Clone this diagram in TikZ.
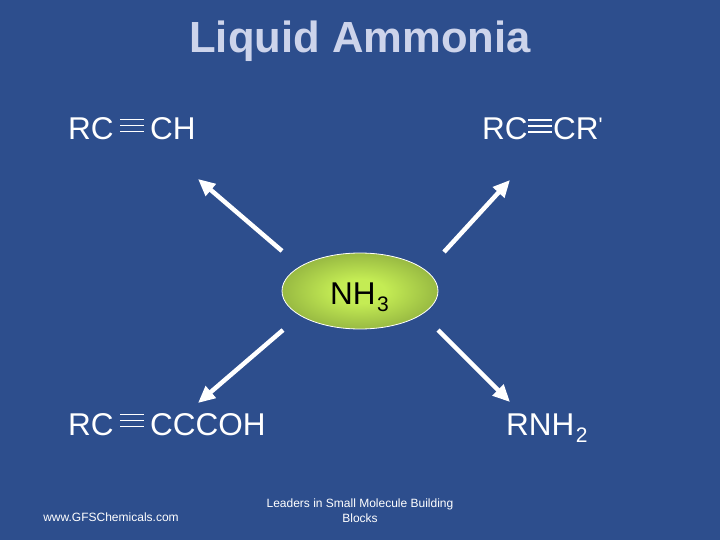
\documentclass[tikz,border=0pt]{standalone}
\usepackage{fontspec}
\setmainfont{Liberation Sans}
\newfontfamily\plainfam{Liberation Sans}
\usetikzlibrary{arrows.meta,shapes.geometric}
\definecolor{bgblue}{RGB}{45,78,141}
\definecolor{titlecol}{RGB}{205,212,235}
\definecolor{glowin}{RGB}{196,236,84}
\definecolor{glowout}{RGB}{88,112,40}
\pgfdeclareradialshading{glowshade}{\pgfpoint{0bp}{0bp}}{color(0bp)=(glowin); color(8bp)=(glowin); color(50bp)=(glowout); color(100bp)=(glowout)}
\newcommand{\subthree}[1]{\kern1.5pt\raisebox{-7pt}{\fontsize{21}{22}\selectfont #1}}
\tikzset{
  x=1pt,y=-1pt,
  lab/.style={text=white,font=\fontsize{31.5}{33}\selectfont,inner sep=0pt,anchor=base west},
  bondline/.style={draw=white,line width=1.8pt},
  bigarrow/.style={draw=white,line width=4.5pt,-{Triangle[length=17pt,width=15pt]}},
  foot/.style={text=white,font=\fontsize{12}{14.5}\selectfont,inner sep=0pt,align=center}
}
\begin{document}
\begin{tikzpicture}
\useasboundingbox (0,0) rectangle (720,540);
\fill[bgblue] (0,0) rectangle (720,540);
\node[text=titlecol,font=\bfseries\fontsize{43.6}{46}\selectfont,inner sep=0pt,anchor=base] (title) at (360,53) {Liquid Ammonia};
\node[lab] (a1) at (68,140) {RC};
\node[lab] (a2) at (150,140) {CH};
\node[lab] (b1) at (482,140) {RC};
\node[lab] (b2) at (553,140) {CR\raisebox{7pt}{\fontsize{21}{22}\plainfam\selectfont '}};
\node[lab] (c1) at (68,435) {RC};
\node[lab] (c2) at (150,435) {CCCOH};
\node[lab] (d) at (506,435) {RNH\subthree{2}};
\foreach \y in {119.5,125.5,131.5} \draw[bondline] (120,\y) -- (144,\y);
\foreach \y in {120,126,132} \draw[bondline] (528,\y) -- (552,\y);
\foreach \y in {414.5,420.5,426.5} \draw[bondline] (120,\y) -- (144,\y);
\node[draw=white,line width=0.8pt,ellipse,minimum width=156pt,minimum height=76pt,inner sep=0pt,shading=glowshade] (nh) at (360,291) {};
\node[lab,text=black] (nhl) at (330,304) {NH\subthree{3}};
\coordinate (s1) at (282,251); \coordinate (e1) at (198,179);
\coordinate (s2) at (444,252); \coordinate (e2) at (510,180);
\coordinate (s3) at (283,330); \coordinate (e3) at (198,403);
\coordinate (s4) at (438,330); \coordinate (e4) at (510,402);
\draw[bigarrow] (s1) -- (e1);
\draw[bigarrow] (s2) -- (e2);
\draw[bigarrow] (s3) -- (e3);
\draw[bigarrow] (s4) -- (e4);
\node[foot,anchor=base] (web) at (111,521) {www.GFSChemicals.com};
\node[foot,anchor=base] (tag) at (360,507) {Leaders in Small Molecule Building};
\node[foot,anchor=base] (tag2) at (360,522) {Blocks};
\end{tikzpicture}
\end{document}
